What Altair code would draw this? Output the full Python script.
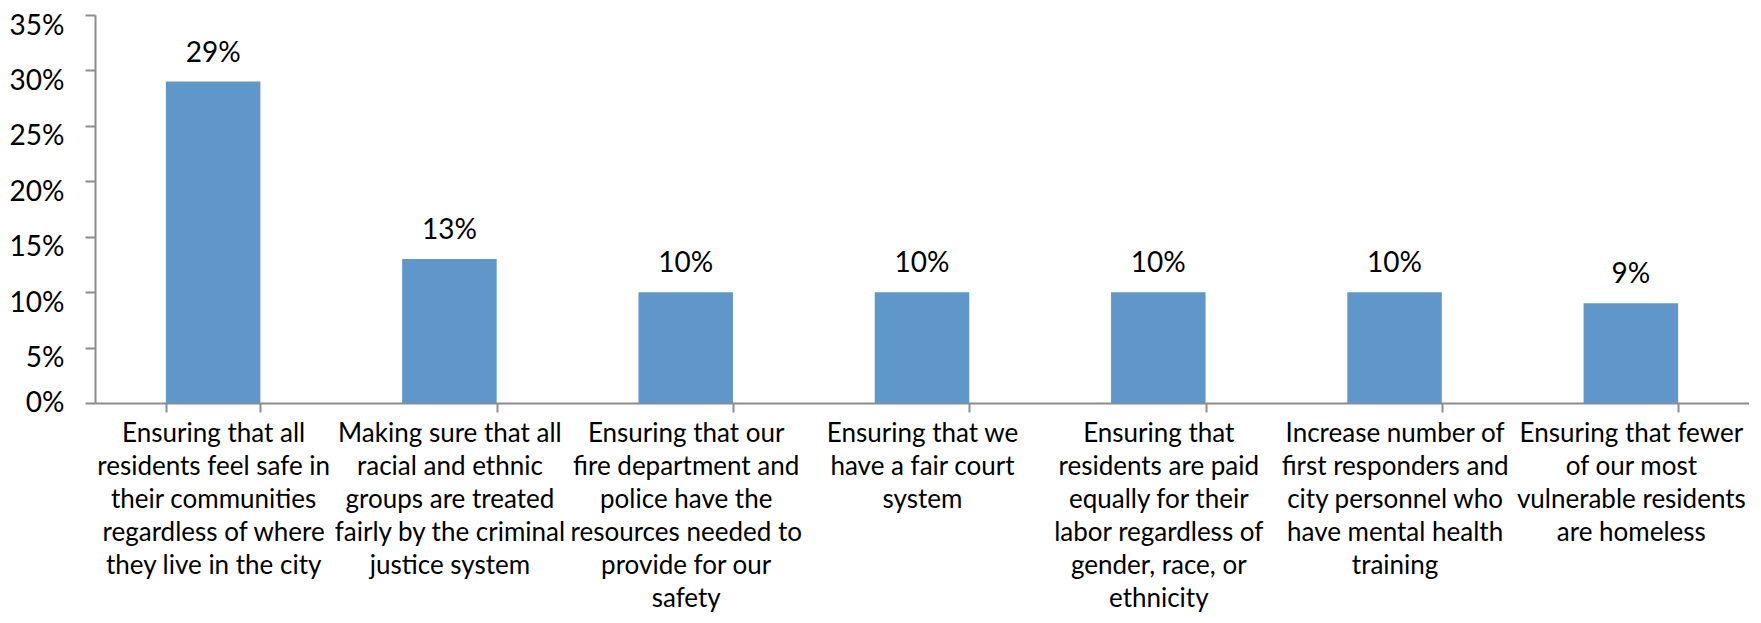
import altair as alt
import pandas as pd

label_lines = [
    ["Ensuring that all", "residents feel safe in", "their communities", "regardless of where", "they live in the city"],
    ["Making sure that all", "racial and ethnic", "groups are treated", "fairly by the criminal", "justice system"],
    ["Ensuring that our", "fire department and", "police have the", "resources needed to", "provide for our", "safety"],
    ["Ensuring that we", "have a fair court", "system"],
    ["Ensuring that", "residents are paid", "equally for their", "labor regardless of", "gender, race, or", "ethnicity"],
    ["Increase number of", "first responders and", "city personnel who", "have mental health", "training"],
    ["Ensuring that fewer", "of our most", "vulnerable residents", "are homeless"],
]
values = [0.29, 0.13, 0.10, 0.10, 0.10, 0.10, 0.09]
y_ticks = [0, 0.05, 0.10, 0.15, 0.20, 0.25, 0.30, 0.35]

categories = ["|".join(lines) for lines in label_lines]
df = pd.DataFrame({"category": categories, "value": values})

FONT = "Lato"
AXIS_GRAY = "#8c8c8c"

x = alt.X(
    "category:N",
    sort=categories,
    scale=alt.Scale(paddingInner=0.6, paddingOuter=0.3),
    axis=alt.Axis(
        title=None,
        labelAngle=0,
        labelExpr="split(datum.label, '|')",
        labelFont=FONT,
        labelFontSize=26,
        labelLineHeight=33,
        labelColor="#000000",
        labelPadding=8,
        labelLimit=400,
        tickBand="extent",
        tickSize=9,
        tickColor=AXIS_GRAY,
        domainColor=AXIS_GRAY,
        tickWidth=2,
        domainWidth=2,
    ),
)

y = alt.Y(
    "value:Q",
    scale=alt.Scale(domain=[0, 0.35], nice=False),
    axis=alt.Axis(
        title=None,
        values=y_ticks,
        format=".0%",
        grid=False,
        labelFont=FONT,
        labelFontSize=28,
        labelColor="#000000",
        labelPadding=21,
        labelBaseline={"condition": {"test": "datum.value === 0", "value": "middle"}, "value": "top"},
        labelOffset={"condition": {"test": "datum.value === 0", "value": 0}, "value": -3},
        tickSize=10,
        tickColor=AXIS_GRAY,
        domainColor=AXIS_GRAY,
        tickWidth=2,
        domainWidth=2,
    ),
)

bars = alt.Chart(df).mark_bar(color="#6097CA").encode(x=x, y=y)
texts = alt.Chart(df).mark_text(
    font=FONT, fontSize=28, color="#000000", dy=-20, baseline="alphabetic"
).encode(x=x, y=y, text=alt.Text("value:Q", format=".0%"))

chart = (
    alt.layer(bars, texts)
    .properties(
        width=1654,
        height=388,
        padding={"left": 87, "top": 7, "right": 0, "bottom": 212},
        autosize=alt.AutoSizeParams(type="none"),
    )
    .configure_view(stroke=None)
)

chart.save("out.html", embed_options={"renderer": "svg", "actions": False})
